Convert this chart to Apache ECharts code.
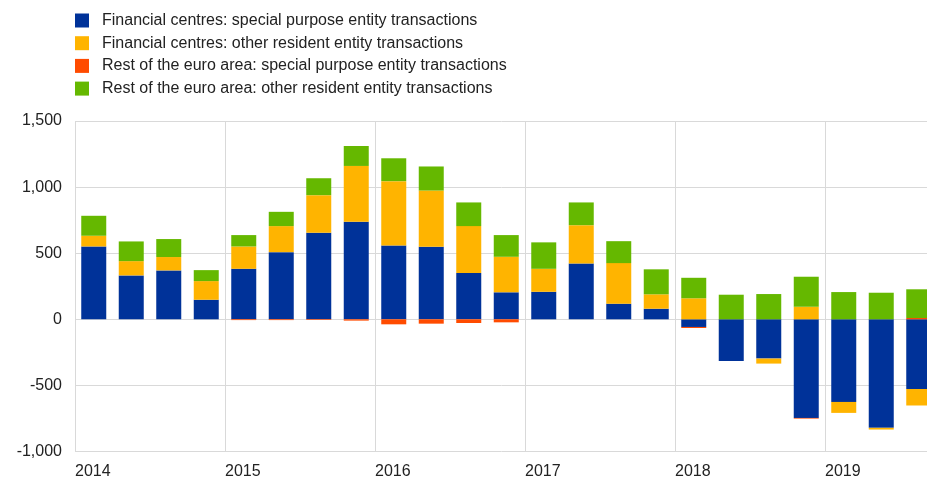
<!DOCTYPE html>
<html>
<head>
<meta charset="utf-8">
<script src="https://cdn.jsdelivr.net/npm/echarts@6/dist/echarts.min.js"></script>
<style>
  html, body { margin: 0; padding: 0; background: #fff; }
  #chart { width: 927px; height: 477px; }
</style>
</head>
<body>
<div id="chart"></div>
<script>
// quarters 2014Q1 .. 2019Q3
const quarters = [
  '2014Q1', '2014Q2', '2014Q3', '2014Q4',
  '2015Q1', '2015Q2', '2015Q3', '2015Q4',
  '2016Q1', '2016Q2', '2016Q3', '2016Q4',
  '2017Q1', '2017Q2', '2017Q3', '2017Q4',
  '2018Q1', '2018Q2', '2018Q3', '2018Q4',
  '2019Q1', '2019Q2', '2019Q3'
];
const yearLabels = ['2014', '2015', '2016', '2017', '2018', '2019'];

const fcSpe = [551, 332, 370, 148, 382, 508, 654, 737, 559, 548, 350, 204, 208, 423, 118, 80, -58, -315, -297, -746, -625, -821, -527];
const fcOther = [81, 108, 101, 141, 169, 197, 285, 423, 486, 426, 355, 269, 174, 289, 307, 109, 159, 0, -38, 95, -83, -13, -125];
const restSpe = [0, 0, 0, 0, -6, -6, -5, -10, -38, -33, -28, -23, 0, 0, 0, 0, -8, 0, 0, -5, 0, 0, 10];
const restOther = [151, 149, 136, 83, 86, 108, 128, 151, 173, 182, 179, 164, 200, 172, 166, 189, 155, 186, 191, 227, 206, 201, 217];

const names = [
  'Financial centres: special purpose entity transactions',
  'Financial centres: other resident entity transactions',
  'Rest of the euro area: special purpose entity transactions',
  'Rest of the euro area: other resident entity transactions'
];
const colors = ['#003299', '#ffb400', '#ff4b00', '#65b800'];
const seriesData = [fcSpe, fcOther, restSpe, restOther];

const font = 'Arial, "Liberation Sans", sans-serif';

const chart = echarts.init(document.getElementById('chart'));

const option = {
  animation: false,
  color: colors,
  legend: {
    orient: 'vertical',
    left: 75,
    top: 12.5,
    padding: 0,
    itemWidth: 14,
    itemHeight: 14,
    itemGap: 6.7,
    icon: 'rect',
    textStyle: { fontFamily: font, fontSize: 16, lineHeight: 14, color: '#222', padding: [0, 0, 0, 8] },
    data: names
  },
  grid: {
    left: 75,
    top: 121,
    width: 862.5,
    bottom: 25.5,
    outerBoundsMode: 'none'
  },
  xAxis: [
    {
      type: 'category',
      data: quarters,
      show: false
    },
    {
      type: 'value',
      min: 0,
      max: quarters.length,
      interval: 4,
      position: 'bottom',
      axisLine: { show: false },
      axisTick: { show: false },
      axisLabel: {
        showMaxLabel: false,
        align: 'left',
        margin: 12,
        fontFamily: font,
        fontSize: 16,
        color: '#222',
        formatter: v => (v % 4 === 0 ? yearLabels[v / 4] || '' : '')
      },
      splitLine: { show: true, lineStyle: { color: '#d9d9d9', width: 1 } }
    }
  ],
  yAxis: {
    type: 'value',
    min: -1000,
    max: 1500,
    interval: 500,
    axisLine: { show: false },
    axisTick: { show: false },
    axisLabel: {
      margin: 13,
      fontFamily: font,
      fontSize: 16,
      color: '#222'
    },
    splitLine: { lineStyle: { color: '#d9d9d9', width: 1 } }
  },
  series: seriesData.map((d, i) => ({
    name: names[i],
    type: 'bar',
    stack: 'total',
    xAxisIndex: 0,
    barWidth: 25,
    data: d,
    itemStyle: { color: colors[i] }
  }))
};

chart.setOption(option);
</script>
</body>
</html>
